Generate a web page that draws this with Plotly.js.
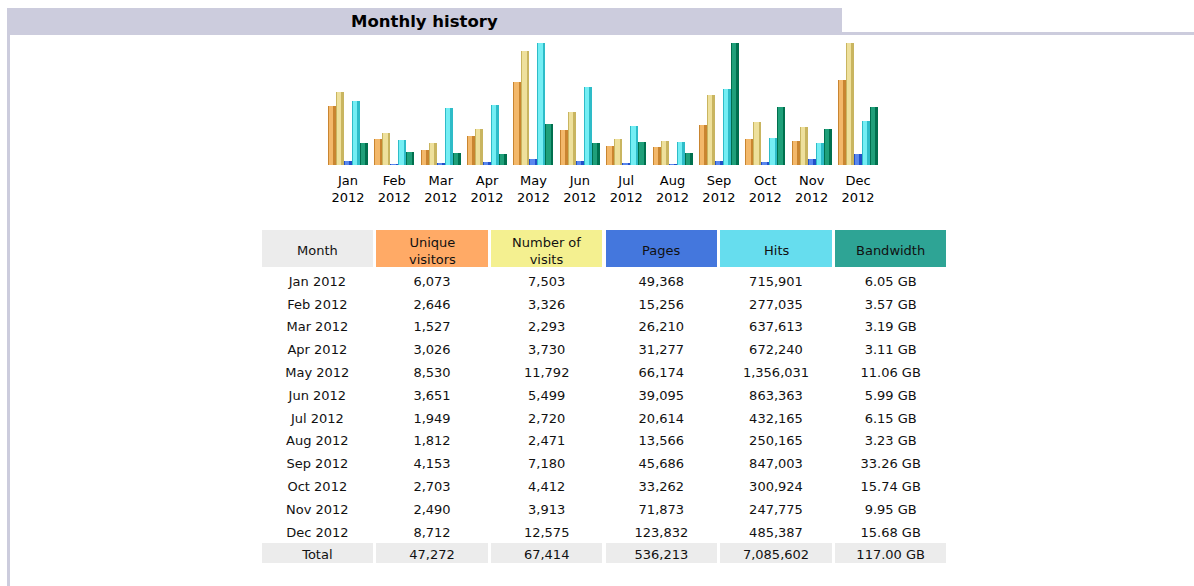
<!DOCTYPE html>
<html>
<head>
<meta charset="utf-8">
<script src="https://cdn.plot.ly/plotly-3.0.1.min.js"></script>
<style>
  html, body { margin: 0; padding: 0; background: #fff; }
  #chart { width: 1194px; height: 586px; }
</style>
</head>
<body>
<div id="chart"></div>
<script>
var months = ['Jan', 'Feb', 'Mar', 'Apr', 'May', 'Jun', 'Jul', 'Aug', 'Sep', 'Oct', 'Nov', 'Dec'];
var year = '2012';
var uniqueVisitors = [6073, 2646, 1527, 3026, 8530, 3651, 1949, 1812, 4153, 2703, 2490, 8712];
var visits = [7503, 3326, 2293, 3730, 11792, 5499, 2720, 2471, 7180, 4412, 3913, 12575];
var pages = [49368, 15256, 26210, 31277, 66174, 39095, 20614, 13566, 45686, 33262, 71873, 123832];
var hits = [715901, 277035, 637613, 672240, 1356031, 863363, 432165, 250165, 847003, 300924, 247775, 485387];
var bandwidthGB = [6.05, 3.57, 3.19, 3.11, 11.06, 5.99, 6.15, 3.23, 33.26, 15.74, 9.95, 15.68];
var headers = ['Month', 'Unique<br>visitors', 'Number of<br>visits', 'Pages', 'Hits', 'Bandwidth'];
var headerColors = ['#ECECEC', '#FFAA66', '#F4F090', '#4477DD', '#66DDEE', '#2EA495'];
var totals = ['Total', 47272, 67414, 536213, 7085602, '117.00 GB'];

var W = 1194, H = 586;
function py(p) { return 1 - p / H; }
function px(p) { return p / W; }

var font = 'DejaVu Sans, Verdana, sans-serif';
var labels = months.map(function (m) { return m + '<br>' + year; });

// bar series: values, axis, dark colour, light colour
var series = [
    [uniqueVisitors, 'y', '#C98530', '#F3B86A'],
    [visits, 'y', '#C9B560', '#EEE09C'],
    [pages, 'y2', '#2250C8', '#5A88EE'],
    [hits, 'y2', '#2EBCC8', '#74EEF4'],
    [bandwidthGB, 'y3', '#00704E', '#1FA07A']
];

var bw = 0.1726;
var data = [];
series.forEach(function (s, i) {
    var off = -0.4314 + i * bw;
    data.push({
        type: 'bar', x: labels, y: s[0], yaxis: s[1],
        width: bw, offset: off,
        marker: { color: s[2], line: { width: 0 } },
        hoverinfo: 'y', showlegend: false
    });
    data.push({
        type: 'bar', x: labels, y: s[0], yaxis: s[1],
        width: bw * 0.55, offset: off + bw * 0.12,
        marker: { color: s[3], line: { width: 0 } },
        hoverinfo: 'skip', showlegend: false
    });
});

function fmt(n) { return n.toLocaleString('en-US'); }

var colMonth = months.map(function (m) { return m + ' ' + year; }).concat([totals[0]]);
var colUnique = uniqueVisitors.map(fmt).concat([fmt(totals[1])]);
var colVisits = visits.map(fmt).concat([fmt(totals[2])]);
var colPages = pages.map(fmt).concat([fmt(totals[3])]);
var colHits = hits.map(fmt).concat([fmt(totals[4])]);
var colBw = bandwidthGB.map(function (v) { return v.toFixed(2) + ' GB'; }).concat([totals[5]]);

var rowFill = colMonth.map(function (m, i) { return i === colMonth.length - 1 ? '#ECECEC' : '#FFFFFF'; });

var tableX0 = 260, tableX1 = 948, headTop = 228, headH = 40;

data.push({
    type: 'table',
    domain: { x: [px(tableX0), px(tableX1)], y: [0, py(headTop)] },
    columnwidth: [1, 1, 1, 1, 1, 1],
    header: {
        values: headers.map(function () { return ''; }),
        align: 'center',
        height: headH,
        fill: { color: headerColors },
        line: { color: '#FFFFFF', width: 3 },
        font: { family: font, size: 13, color: '#111' }
    },
    cells: {
        values: [colMonth, colUnique, colVisits, colPages, colHits, colBw],
        align: 'center',
        height: 22.8,
        fill: { color: [rowFill, rowFill, rowFill, rowFill, rowFill, rowFill] },
        line: { color: '#FFFFFF', width: 3 },
        font: { family: font, size: 13, color: '#111' }
    }
});

// header captions, vertically centred in the header cells
var colW = (tableX1 - tableX0) / headers.length;
var headerNotes = headers.map(function (h, i) {
    return {
        xref: 'paper', yref: 'paper',
        x: px(tableX0 + (i + 0.5) * colW), y: py(headTop + headH / 2 + 2.5),
        xanchor: 'center', yanchor: 'middle', showarrow: false,
        text: h,
        font: { family: font, size: 13, color: '#111' }
    };
});

var layout = {
    width: W,
    height: H,
    margin: { l: 0, r: 0, t: 0, b: 0 },
    paper_bgcolor: '#FFFFFF',
    plot_bgcolor: 'rgba(0,0,0,0)',
    barmode: 'overlay',
    bargap: 0,
    xaxis: {
        domain: [px(324.8), px(881.2)],
        type: 'category',
        range: [-0.5, 11.5],
        showgrid: false, zeroline: false, showline: false,
        ticks: '',
        ticklabelstandoff: 6,
        tickfont: { family: font, size: 13, color: '#000' },
        fixedrange: true
    },
    yaxis: {
        domain: [py(165), py(43)],
        range: [0, Math.max.apply(null, visits.concat(uniqueVisitors))],
        visible: false, fixedrange: true
    },
    yaxis2: {
        overlaying: 'y',
        range: [0, Math.max.apply(null, hits.concat(pages))],
        visible: false, fixedrange: true
    },
    yaxis3: {
        overlaying: 'y',
        range: [0, Math.max.apply(null, bandwidthGB)],
        visible: false, fixedrange: true
    },
    shapes: [
        { type: 'rect', xref: 'paper', yref: 'paper', x0: px(7), x1: px(842), y0: py(35), y1: py(8),
          fillcolor: '#CCCCDD', line: { width: 0 }, layer: 'below' },
        { type: 'rect', xref: 'paper', yref: 'paper', x0: px(842), x1: px(1194), y0: py(35), y1: py(32),
          fillcolor: '#CCCCDD', line: { width: 0 }, layer: 'below' },
        { type: 'rect', xref: 'paper', yref: 'paper', x0: px(7), x1: px(10), y0: 0, y1: py(35),
          fillcolor: '#CCCCDD', line: { width: 0 }, layer: 'below' }
    ],
    annotations: [{
        xref: 'paper', yref: 'paper', x: px(424.5), y: py(21.5),
        xanchor: 'center', yanchor: 'middle', showarrow: false,
        text: '<b>Monthly history</b>',
        font: { family: font, size: 16.5, color: '#000' }
    }].concat(headerNotes)
};

Plotly.newPlot('chart', data, layout, { displayModeBar: false, staticPlot: true });
</script>
</body>
</html>
